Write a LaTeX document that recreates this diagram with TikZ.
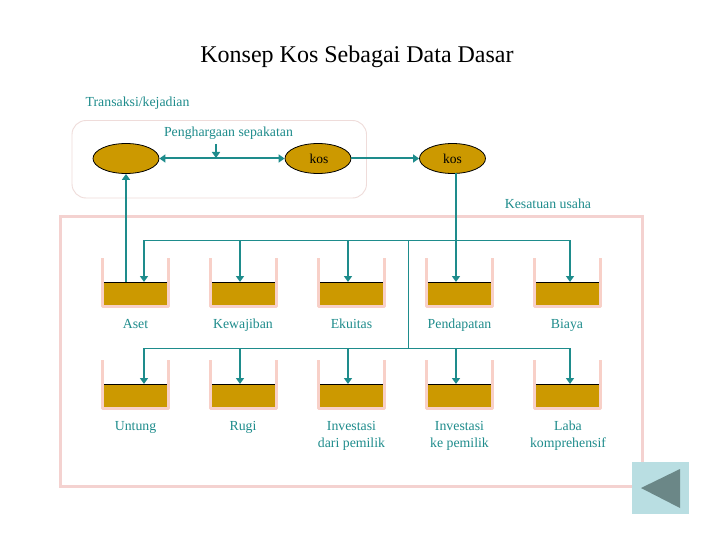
\documentclass[tikz,border=0pt]{standalone}
\usepackage{fontspec}
\setmainfont{Liberation Serif}
\usetikzlibrary{shapes.geometric,arrows.meta,calc}
\definecolor{teal1}{HTML}{1E8C8C}
\definecolor{gold1}{HTML}{CC9900}
\definecolor{pink1}{HTML}{F4D2D0}
\definecolor{pink2}{HTML}{EFDCDA}
\definecolor{wall1}{HTML}{F8D0C8}
\definecolor{btn}{HTML}{B9DEE2}
\definecolor{tri}{HTML}{6B8787}
\tikzset{
  x=1pt,y=-1pt,
  oval/.style={ellipse,draw=black,line width=0.8pt,fill=gold1,minimum width=66pt,minimum height=30pt,inner sep=0pt,font=\fontsize{13.5}{15}\selectfont,text=black},
  content/.style={rectangle,fill=gold1,minimum width=63pt,minimum height=23pt,inner sep=0pt,anchor=north west},
  lbl/.style={text=teal1,font=\fontsize{13.8}{17}\selectfont,align=center,inner sep=0pt,anchor=base},
  wall/.style={draw=wall1,line width=3pt},
  thick1/.style={draw=teal1,line width=2pt},
  thin1/.style={draw=teal1,line width=0.8pt},
  tip/.style={-{Triangle[width=8pt,length=6pt]}},
  tips/.style={{Triangle[width=8pt,length=6pt]}-{Triangle[width=8pt,length=6pt]}}
}
\begin{document}
\begin{tikzpicture}
\useasboundingbox (0,0) rectangle (720,540);
\fill[white] (0,0) rectangle (720,540);
% frames
\draw[draw=pink2,line width=0.9pt,rounded corners=14pt] (72,120.5) rectangle (366.5,198);
\draw[draw=pink1,line width=3pt] (60.5,216.5) rectangle (642.5,486.5);
% tanks
\foreach \n/\x/\y in {a/101/258,b/209/258,c/317/258,d/425/258,e/533/258,f/101/360,g/209/360,h/317/360,i/425/360,j/533/360}{
  \draw[wall,line join=round] ($(\x,\y)+(1,0)$) -- ++(0,48) -- ++(66,0) -- ++(0,-48);
  \node[content] (\n) at ($(\x,\y)+(3,24)$) {};
  \draw[black,line width=0.8pt] (\n.north west) -- (\n.north east);
}
% ovals
\node[oval] (o1) at (126,158.5) {};
\node[oval] (o2) at (318,158.5) {\hspace*{2pt}kos};
\node[oval] (o3) at (452.5,158.5) {kos};
% coordinates
\coordinate (hubT) at (408.5,240);
\coordinate (hubB) at (408.5,348);
\coordinate (n0) at (216,144);
\coordinate (n1) at (216,158);
\coordinate (busTL) at (144,240);
\coordinate (busTR) at (570,240);
\coordinate (busBL) at (144,348);
\coordinate (busBR) at (570,348);
% connectors
\draw[thin1] (busTL) -- (busTR);
\draw[thin1] (busBL) -- (busBR);
\draw[thin1] (hubT) -- (hubB);
\draw[thick1,tip] (n0) -- (n1);
\draw[thick1,tips] (o2.west) -- (o1.east);
\draw[thick1,tip] (o2.east) -- (o3.west);
\draw[thick1,tip] (126,282) -- (o1.south);
\draw[thick1,tip] (456,173.5) -- (456,282);
\draw[thick1,tip] (busTL) -- (144,282);
\draw[thick1,tip] (240,240) -- (240,282);
\draw[thick1,tip] (348,240) -- (348,282);
\draw[thick1,tip] (busTR) -- (570,282);
\draw[thick1,tip] (busBL) -- (144,384);
\draw[thick1,tip] (240,348) -- (240,384);
\draw[thick1,tip] (348,348) -- (348,384);
\draw[thick1,tip] (456,348) -- (456,384);
\draw[thick1,tip] (busBR) -- (570,384);
% labels
\node[text=black,font=\fontsize{24}{28}\selectfont,inner sep=0pt,anchor=base] (title) at (357,63) {Konsep Kos Sebagai Data Dasar};
\node[lbl,anchor=base west] (t1) at (85.5,107) {Transaksi/kejadian};
\node[lbl] (t2) at (228.5,137) {Penghargaan sepakatan};
\node[lbl] (t3) at (548,209) {Kesatuan usaha};
\node[lbl] at (135.5,328) {Aset};
\node[lbl] at (243,328) {Kewajiban};
\node[lbl] at (351.5,328) {Ekuitas};
\node[lbl] at (459.5,328) {Pendapatan};
\node[lbl] at (567,328) {Biaya};
\node[lbl] at (135.5,430) {Untung};
\node[lbl] at (243,430) {Rugi};
\node[lbl] at (351.5,447) {Investasi\\dari pemilik};
\node[lbl] at (459.5,447) {Investasi\\ke pemilik};
\node[lbl] at (568,447) {Laba\\komprehensif};
% button
\fill[btn] (632,462) rectangle (689,514);
\fill[tri] (641,488) -- (680,469) -- (680,508) -- cycle;
\end{tikzpicture}
\end{document}
